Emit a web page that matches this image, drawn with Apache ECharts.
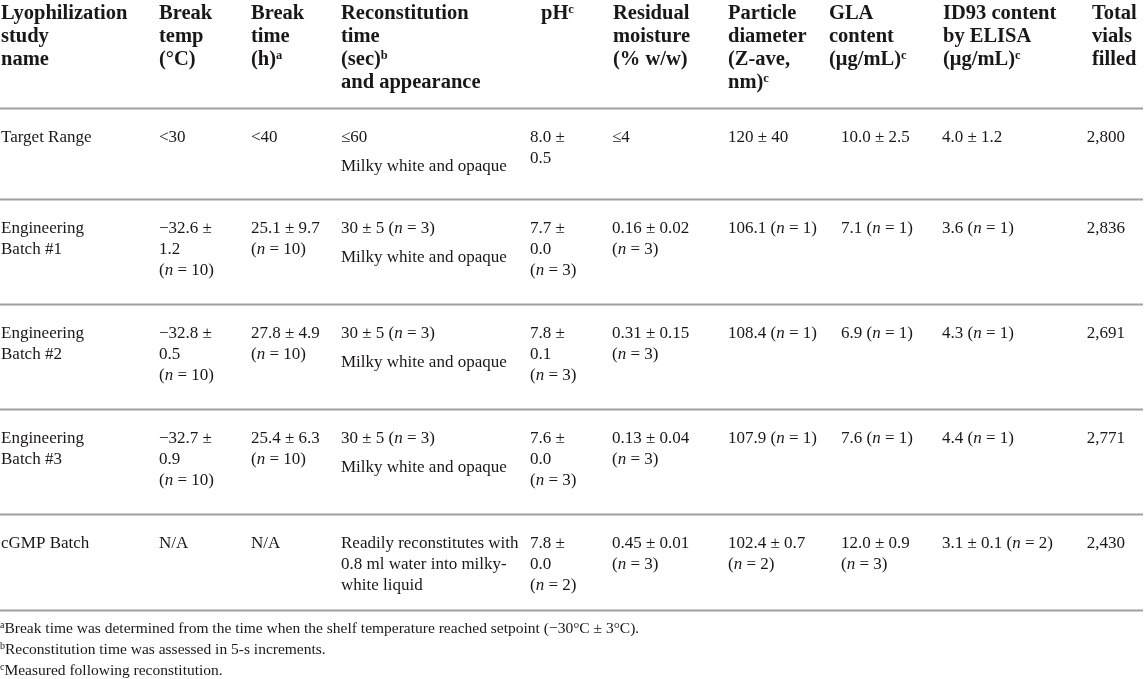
<!DOCTYPE html>
<html>
<head>
<meta charset="utf-8">
<script src="https://cdn.jsdelivr.net/npm/echarts@6/dist/echarts.min.js"></script>
<style>
html,body{margin:0;padding:0;background:#fff;}
#main{width:1145px;height:679px;}
</style>
</head>
<body>
<div id="main"></div>
<script>
// ---------- DATA ----------
const columnLabels = [
  ["Lyophilization", "study", "name"],
  ["Break", "temp", "(°C)"],
  ["Break", "time", "(h)^a"],
  ["Reconstitution", "time", "(sec)^b", "and appearance"],
  ["pH^c"],
  ["Residual", "moisture", "(% w/w)"],
  ["Particle", "diameter", "(Z-ave,", "nm)^c"],
  ["GLA", "content", "(μg/mL)^c"],
  ["ID93 content", "by ELISA", "(μg/mL)^c"],
  ["Total", "vials", "filled"]
];
const studyNames = [["Target Range"], ["Engineering", "Batch #1"], ["Engineering", "Batch #2"], ["Engineering", "Batch #3"], ["cGMP Batch"]];
const breakTemp = [["<30"], ["−32.6 ±", "1.2", "(n = 10)"], ["−32.8 ±", "0.5", "(n = 10)"], ["−32.7 ±", "0.9", "(n = 10)"], ["N/A"]];
const breakTime = [["<40"], ["25.1 ± 9.7", "(n = 10)"], ["27.8 ± 4.9", "(n = 10)"], ["25.4 ± 6.3", "(n = 10)"], ["N/A"]];
const reconTime = [["≤60"], ["30 ± 5 (n = 3)"], ["30 ± 5 (n = 3)"], ["30 ± 5 (n = 3)"], ["Readily reconstitutes with", "0.8 ml water into milky-", "white liquid"]];
const appearance = ["Milky white and opaque", "Milky white and opaque", "Milky white and opaque", "Milky white and opaque", ""];
const pHValues = [["8.0 ±", "0.5"], ["7.7 ±", "0.0", "(n = 3)"], ["7.8 ±", "0.1", "(n = 3)"], ["7.6 ±", "0.0", "(n = 3)"], ["7.8 ±", "0.0", "(n = 2)"]];
const moisture = [["≤4"], ["0.16 ± 0.02", "(n = 3)"], ["0.31 ± 0.15", "(n = 3)"], ["0.13 ± 0.04", "(n = 3)"], ["0.45 ± 0.01", "(n = 3)"]];
const particle = [["120 ± 40"], ["106.1 (n = 1)"], ["108.4 (n = 1)"], ["107.9 (n = 1)"], ["102.4 ± 0.7", "(n = 2)"]];
const glaContent = [["10.0 ± 2.5"], ["7.1 (n = 1)"], ["6.9 (n = 1)"], ["7.6 (n = 1)"], ["12.0 ± 0.9", "(n = 3)"]];
const id93Content = [["4.0 ± 1.2"], ["3.6 (n = 1)"], ["4.3 (n = 1)"], ["4.4 (n = 1)"], ["3.1 ± 0.1 (n = 2)"]];
const vialsFilled = [["2,800"], ["2,836"], ["2,691"], ["2,771"], ["2,430"]];
const footnotes = [
  ["a", "Break time was determined from the time when the shelf temperature reached setpoint (−30°C ± 3°C)."],
  ["b", "Reconstitution time was assessed in 5-s increments."],
  ["c", "Measured following reconstitution."]
];

// ---------- LAYOUT / STYLE ----------
const FONT = '"Liberation Serif", "Times New Roman", serif';
const INK = '#1a1718';
const RULE = '#a0a0a0';
const headX = [1, 159, 251, 341, 541, 613, 728, 829, 943, 1092];
const bodyX = [1, 159, 251, 341, 530, 612, 728, 841, 942, 1125];
const rules = [108.5, 199.5, 304.5, 409.5, 514.5, 610.5];
const HEAD_FS = 20.5, BODY_FS = 17, NOTE_FS = 15.5;
const HEAD_BASE = 18.5, HEAD_LH = 23;
const BODY_TOP = 33, BODY_LH = 21, PARA_GAP = 29.5;
const NOTE_BASE = 22, NOTE_LH = 20.8;
const BASE_K = 0.235;

function fmt(s) {
  return s.replace(/\(n = /g, '({i|n} = ').replace(/\^([abc])/g, '{sup|$1}');
}

const g = [];
function addText(x, baseline, str, fs, weight, align, supFs) {
  g.push({
    type: 'text',
    x: x,
    y: baseline - BASE_K * fs,
    silent: true,
    style: {
      text: fmt(str),
      fontFamily: FONT,
      fontSize: fs,
      fontWeight: weight,
      fill: INK,
      align: align || 'left',
      verticalAlign: 'middle',
      rich: {
        i: { fontFamily: FONT, fontSize: fs, fontStyle: 'italic', fontWeight: weight, fill: INK },
        sup: { fontFamily: FONT, fontSize: supFs || 12, fontWeight: weight, fill: INK, verticalAlign: 'top', lineHeight: fs }
      }
    }
  });
}

// header
columnLabels.forEach((lines, c) => {
  lines.forEach((ln, k) => addText(headX[c], HEAD_BASE + k * HEAD_LH, ln, HEAD_FS, 'bold', 'left', 12.5));
});

// rules
rules.forEach(y => {
  g.push({ type: 'line', silent: true, shape: { x1: 0, y1: y, x2: 1143, y2: y }, style: { stroke: RULE, lineWidth: 2 } });
});

// body
const bodyCols = [studyNames, breakTemp, breakTime, reconTime, pHValues, moisture, particle, glaContent, id93Content, vialsFilled];
studyNames.forEach((_, r) => {
  const first = rules[r] + BODY_TOP;
  bodyCols.forEach((col, c) => {
    col[r].forEach((ln, k) => addText(bodyX[c], first + k * BODY_LH, ln, BODY_FS, 'normal', c === 9 ? 'right' : 'left'));
  });
  if (appearance[r]) addText(bodyX[3], first + PARA_GAP, appearance[r], BODY_FS, 'normal', 'left');
});

// footnotes
footnotes.forEach((fn, k) => {
  addText(0, rules[5] + NOTE_BASE + k * NOTE_LH, '^' + fn[0] + fn[1], NOTE_FS, 'normal', 'left', 10);
});

const chart = echarts.init(document.getElementById('main'), null, { renderer: 'canvas' });
chart.setOption({
  backgroundColor: '#ffffff',
  animation: false,
  graphic: { elements: g }
});
</script>
</body>
</html>
